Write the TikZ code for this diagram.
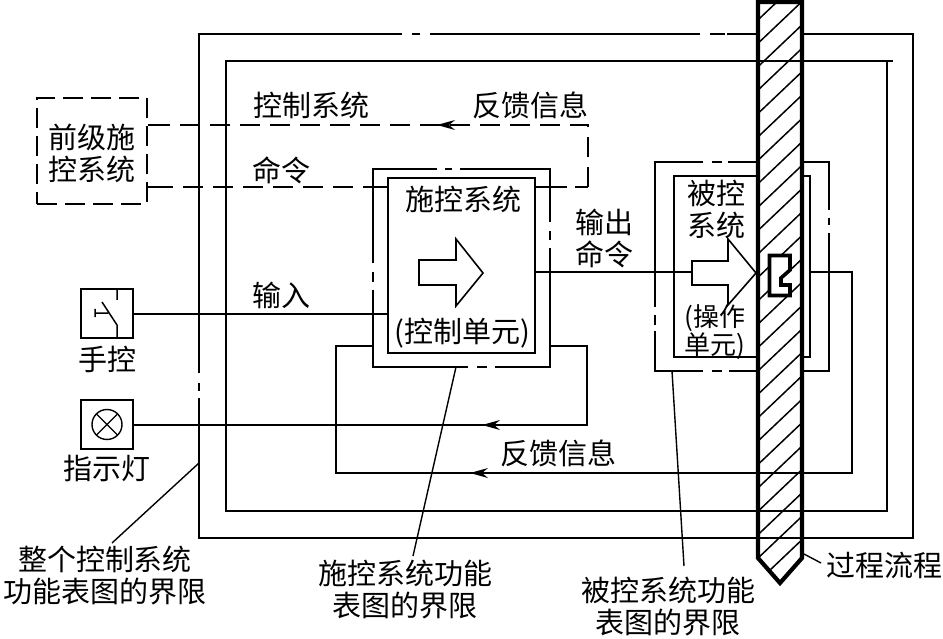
\documentclass[tikz,border=0pt]{standalone}
\usepackage{fontspec}
\setmainfont{Liberation Serif}
\newfontfamily\cjk{Noto Sans CJK SC}
\tikzset{
  x=1pt,y=-1pt,
  thin line/.style={line width=1.6pt,line cap=butt,line join=miter},
  dashline/.style={line width=1.7pt,dash pattern=on 20pt off 10pt},
  lbl/.style={inner sep=0pt,font=\cjk\fontsize{29}{32}\selectfont,align=center},
  boxnode/.style={draw,line width=1.7pt,inner sep=0pt,fill=white},
  bigarrow/.style={draw,fill=white,line width=1.6pt,line join=miter},
  leader/.style={line width=1.4pt},
  pipeline/.style={line width=4.2pt,line join=miter},
}
\newcommand{\arrowat}[1]{\fill (#1) -- ++(18,-5) -- ++(-6,5) -- ++(6,5) -- cycle;}
\begin{document}
\begin{tikzpicture}
\useasboundingbox (0,0) rectangle (943,639);
% outer frames with chain gaps
\draw[thin line] (402,34) -- (199,34) -- (199,373) (199,383) -- (199,391) (199,398) -- (199,538) -- (913,538) -- (913,34) -- (727,34) (725,34) -- (710,34) (700,34) -- (430,34) (420,34) -- (412,34);
\draw[thin line] (893,61) -- (226,61) -- (226,511) -- (887,511) -- (887,61);
% control frame
\draw[thin line] (437,169) -- (373,169) -- (373,263) (373,272) -- (373,282) (373,290) -- (373,367) -- (468,367) (477,367) -- (487,367) (495,367) -- (550,367) -- (550,248) (550,240) -- (550,231) (550,222) -- (550,169) -- (460,169) (452,169) -- (445,169);
% controlled frame
\draw[thin line] (703,162) -- (655,162) -- (655,307) (655,315) -- (655,325) (655,331) -- (655,371) -- (703,371) (712,371) -- (722,371) (729,371) -- (829,371) -- (829,233) (829,225) -- (829,218) (829,210) -- (829,162) -- (728,162) (722,162) -- (712,162);
% inner boxes
\node[boxnode,minimum width=147pt,minimum height=175pt] (ctrl) at (461.5,265.5) {};
\draw[thin line] (674,176) rectangle (810,357);
\coordinate (actL) at (692,272);
\coordinate (actR) at (810,272);
% prior-stage box
\node[draw,line width=1.7pt,dash pattern=on 20pt off 8pt,minimum width=110pt,minimum height=106pt,inner sep=0pt] (prior) at (92,151) {};
% manual + lamp boxes
\node[boxnode,minimum width=52pt,minimum height=49pt] (manual) at (107,313.5) {};
\node[boxnode,minimum width=52pt,minimum height=49pt] (lamp) at (107,424.5) {};
\draw[line width=1.5pt] (117,289) -- (117,300) (102,302) -- (117,325) -- (117,338) (95,313) -- (108,313) (95,309) -- (95,317);
\draw[line width=1.4pt] (lamp.center) circle (15pt);
\draw[line width=1.4pt] (lamp.center) ++(-10.6,-10.6) -- ++(21.2,21.2) (lamp.center) ++(-10.6,10.6) -- ++(21.2,-21.2);
% dashed command / feedback
\coordinate (fbA) at (ctrl.east |- 0,187);
\coordinate (fbA2) at (567,187);
\coordinate (fbB2) at (575,187);
\coordinate (fbB) at (588,187);
\coordinate (fbC) at (588,125);
\coordinate (fbD) at (prior.east |- 0,125);
\coordinate (fbD2) at (153,125);
\coordinate (cmdA) at (prior.east |- 0,187);
\coordinate (cmdA2) at (153,187);
\coordinate (cmdB) at (ctrl.west |- 0,187);
\coordinate (cmdB2) at (373,187);
\draw[line width=1.7pt] (fbA) -- (fbA2) (fbB2) -- (fbB);
\draw[dashline] (fbB) -- (fbC) -- (fbD2);
\draw[line width=1.7pt] (fbD2) -- (fbD) (cmdA) -- (cmdA2) (cmdB2) -- (cmdB);
\draw[dashline] (cmdA2) -- (cmdB2);
\coordinate (tipA) at (437,125);
\arrowat{tipA}
% input / output
\coordinate (inA) at (manual.east |- 0,314);
\coordinate (inB) at (ctrl.west |- 0,314);
\draw[thin line] (inA) -- (inB);
\draw[thin line] (ctrl.east |- actL) -- (actL);
% feedback loops
\coordinate (lpA) at (550,346);
\coordinate (lpB) at (587,346);
\coordinate (lpC) at (587,425);
\coordinate (lampIn) at (lamp.east |- 0,425);
\draw[thin line] (lpA) -- (lpB) -- (lpC) -- (lampIn);
\coordinate (tipB) at (482,425);
\arrowat{tipB}
% white arrows
\draw[bigarrow] (419,260) -- (456,260) -- (456,239) -- (483,273) -- (456,306) -- (456,285) -- (419,285) -- cycle;
\draw[bigarrow] (692,261) -- (728,261) -- (728,239) -- (756,273) -- (728,305) -- (728,285) -- (692,285) -- cycle;
% pipe
\fill[white] (758,2) -- (802,2) -- (802,558) -- (780,583) -- (758,558) -- cycle;
\begin{scope}
\clip (758,2) -- (802,2) -- (802,558) -- (780,583) -- (758,558) -- cycle;
\foreach \k in {-1,...,25} {
  \draw[line width=1.5pt] (750,{18+\k*23.4+9.5}) -- (810,{18+\k*23.4-47.5});
}
\end{scope}
\draw[pipeline] (758,2) -- (802,2) -- (802,558) -- (780,583) -- (758,558) -- cycle;
% final control element
\draw[line width=3.6pt,fill=white,line join=miter] (769.5,255.5) -- (790,255.5) -- (790,270) -- (781,278) -- (781,285) -- (790,285) -- (790,295.5) -- (769.5,295.5) -- cycle;
% lines crossing the pipe
\draw[thin line] (226,61) -- (893,61);
\draw[thin line] (226,511) -- (887,511);
\draw[thin line] (199,538) -- (913,538);
\coordinate (lpD) at (852,272);
\coordinate (lpE) at (852,473);
\coordinate (lpF) at (336,473);
\coordinate (lpG) at (336,346);
\coordinate (lpH) at (373,346);
\draw[thin line] (actR) -- (lpD) -- (lpE) -- (lpF) -- (lpG) -- (lpH);
\coordinate (tipC) at (470,473);
\arrowat{tipC}
% labels
\node[lbl] (t0) at (92,153) {前级施\\控系统};
\node[lbl] (t1) at (311,105) {控制系统};
\node[lbl] (t2) at (530,105) {反馈信息};
\node[lbl] (t3) at (281,170) {命令};
\node[lbl] (t4) at (463,199) {施控系统};
\node[lbl] (t5) at (604,239) {输出\\命令};
\node[lbl] (t6) at (716,209) {被控\\系统};
\node[lbl,font=\cjk\fontsize{26}{26}\selectfont] (t7) at (715,332) {(操作\\单元)};
\node[lbl] (t8) at (281,295) {输入};
\node[lbl] (t9) at (462,333) {(控制单元)};
\node[lbl] (t10) at (107,359) {手控};
\node[lbl] (t11) at (107,468) {指示灯};
\node[lbl] (t12) at (558,453) {反馈信息};
\node[lbl] (t13) at (105,576) {整个控制系统\\功能表图的界限};
\node[lbl] (t14) at (405,590) {施控系统功能\\表图的界限};
\node[lbl] (t15) at (668,607) {被控系统功能\\表图的界限};
\node[lbl] (t16) at (884,565) {过程流程};
% leaders
\coordinate (lead1) at (199,463);
\coordinate (lead2) at (456,367);
\coordinate (lead3) at (672,371);
\coordinate (lead4) at (804,554);
\coordinate (lead1e) at (112,543);
\coordinate (lead2e) at (413,556);
\coordinate (lead3e) at (684,566);
\coordinate (lead4e) at (821,563);
\draw[leader] (lead1) -- (lead1e);
\draw[leader] (lead2) -- (lead2e);
\draw[leader] (lead3) -- (lead3e);
\draw[leader] (lead4) -- (lead4e);
\end{tikzpicture}
\end{document}
